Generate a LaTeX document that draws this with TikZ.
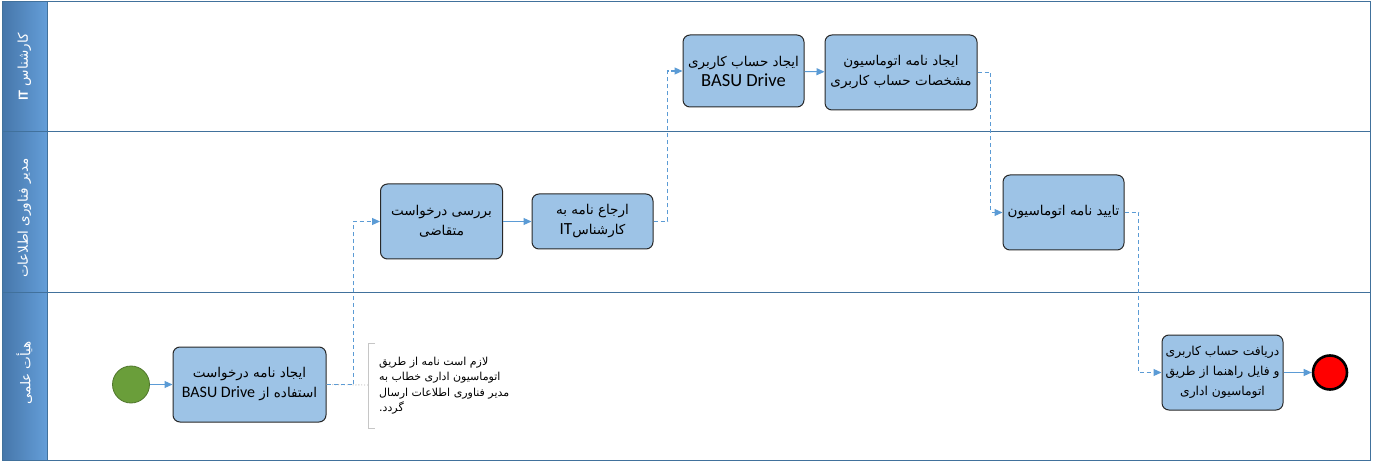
\documentclass[tikz,border=0pt]{standalone}
\usepackage{fontspec}
\setmainfont{Carlito}
\newfontfamily\fa[Script=Arabic]{DejaVu Sans}
\newfontfamily\lat{Carlito}
\TeXXeTstate=1
\usetikzlibrary{arrows.meta}
\newcommand{\RR}[1]{{\fa\beginR #1\endR}}
\newcommand{\LL}[2]{\beginL{\lat\fontsize{#1}{20}\selectfont #2}\endL{}}
\definecolor{frame}{RGB}{65,113,156}
\definecolor{boxfill}{RGB}{157,195,230}
\definecolor{boxline}{RGB}{40,40,40}
\definecolor{flow}{RGB}{91,155,213}
\definecolor{startg}{RGB}{106,158,58}
\definecolor{hdrdark}{RGB}{70,118,170}
\definecolor{hdrlight}{RGB}{100,158,216}
\tikzset{
  task/.style={draw=boxline, line width=1pt, fill=boxfill, rounded corners=7pt,
    align=center, font=\fontsize{13.5}{20}\selectfont, inner sep=1pt},
  seqflow/.style={draw=flow, line width=1.1pt, -{Triangle[length=8pt,width=7pt]}},
  msgflow/.style={draw=flow, line width=1.1pt, dashed, dash pattern=on 4pt off 3pt,
    -{Triangle[length=8pt,width=7pt]}},
  assoc/.style={draw=gray!60, line width=0.9pt, dotted},
  lanehdr/.style={left color=hdrdark, right color=hdrlight, draw=frame, line width=1pt},
  lanetext/.style={text=white, font=\fontsize{13.5}{14}\selectfont, rotate=90},
}
\begin{document}
\begin{tikzpicture}[x=1pt,y=-1pt]
\useasboundingbox (0,0) rectangle (1373,462);
% lanes
\shade[lanehdr] (2,2) rectangle (47,132);
\shade[lanehdr] (2,132) rectangle (47,293);
\shade[lanehdr] (2,293) rectangle (47,460);
\draw[frame, line width=1pt] (2,2) rectangle (1370,460);
\draw[frame, line width=1pt] (2,132) -- (1370,132);
\draw[frame, line width=1pt] (2,293) -- (1370,293);
\draw[frame, line width=1pt] (47,2) -- (47,460);
\node[lanetext] (l1) at (24.5,67) {\RR{کارشناس {\lat\bfseries\fontsize{14}{14}\selectfont IT}}};
\node[lanetext] (l2) at (24.5,218) {\RR{مدیر فناوری اطلاعات}};
\node[lanetext] (l3) at (24.5,373) {\RR{هیأت علمی}};
% events
\node[circle, draw=startg!75!black, line width=0.8pt, fill=startg, minimum size=37pt, inner sep=0pt] (start) at (131,384.5) {};
\node[circle, draw=black, line width=2.6pt, fill=red, minimum size=34pt, inner sep=0pt] (end) at (1330,372.5) {};
% tasks
\node[task, minimum width=153pt, minimum height=75pt] (A) at (249.5,384.5)
  {\RR{ایجاد نامه درخواست}\\\RR{استفاده از \LL{16}{BASU Drive}}};
\node[task, minimum width=122pt, minimum height=75pt] (B) at (441.5,221.5)
  {\RR{بررسی درخواست}\\\RR{متقاضی}};
\node[task, minimum width=121pt, minimum height=55pt] (C) at (592.5,221.5)
  {\RR{ارجاع نامه به}\\\RR{کارشناس{\lat\fontsize{17}{20}\selectfont IT}}};
\node[task, minimum width=121pt, minimum height=72pt] (D) at (743.5,71)
  {\RR{ایجاد حساب کاربری}\\{\lat\fontsize{18.5}{20}\selectfont BASU Drive}};
\node[task, minimum width=152pt, minimum height=75pt] (E) at (901,72.5)
  {\RR{ایجاد نامه اتوماسیون}\\\RR{مشخصات حساب کاربری}};
\node[task, minimum width=121pt, minimum height=75pt] (F) at (1063.5,212.5)
  {\RR{تایید نامه اتوماسیون}};
\node[task, minimum width=121pt, minimum height=75pt, font=\fontsize{12.3}{20}\selectfont] (G) at (1222.5,372.5)
  {\RR{دریافت حساب کاربری}\\\RR{و فایل راهنما از طریق}\\\RR{اتوماسیون اداری}};
% annotation
\coordinate (brk) at (368,385);
\draw[gray!45, line width=1pt] (375,343) -- (368,343) -- (368,428) -- (375,428);
\node[anchor=west, align=left, font=\fontsize{11}{15.5}\selectfont, inner sep=0pt] (note) at (379,385.5)
  {\RR{لازم است نامه از طریق}\\\RR{اتوماسیون اداری خطاب به}\\\RR{مدیر فناوری اطلاعات ارسال}\\\RR{گردد.}};
\draw[assoc] (A.east) -- (brk);
% flows
\draw[seqflow] (start) -- (A);
\draw[msgflow] (A.east) -- ++(27,0) |- (B.west);
\draw[seqflow] (B) -- (C);
\draw[msgflow] (C.east) -- ++(14,0) |- (D.west);
\draw[seqflow] (D) -- (E);
\draw[msgflow] (E.east) -- ++(13,0) |- (F.west);
\draw[msgflow] (F.east) -- ++(14,0) |- (G.west);
\draw[seqflow] (G) -- (end);
\end{tikzpicture}
\end{document}
